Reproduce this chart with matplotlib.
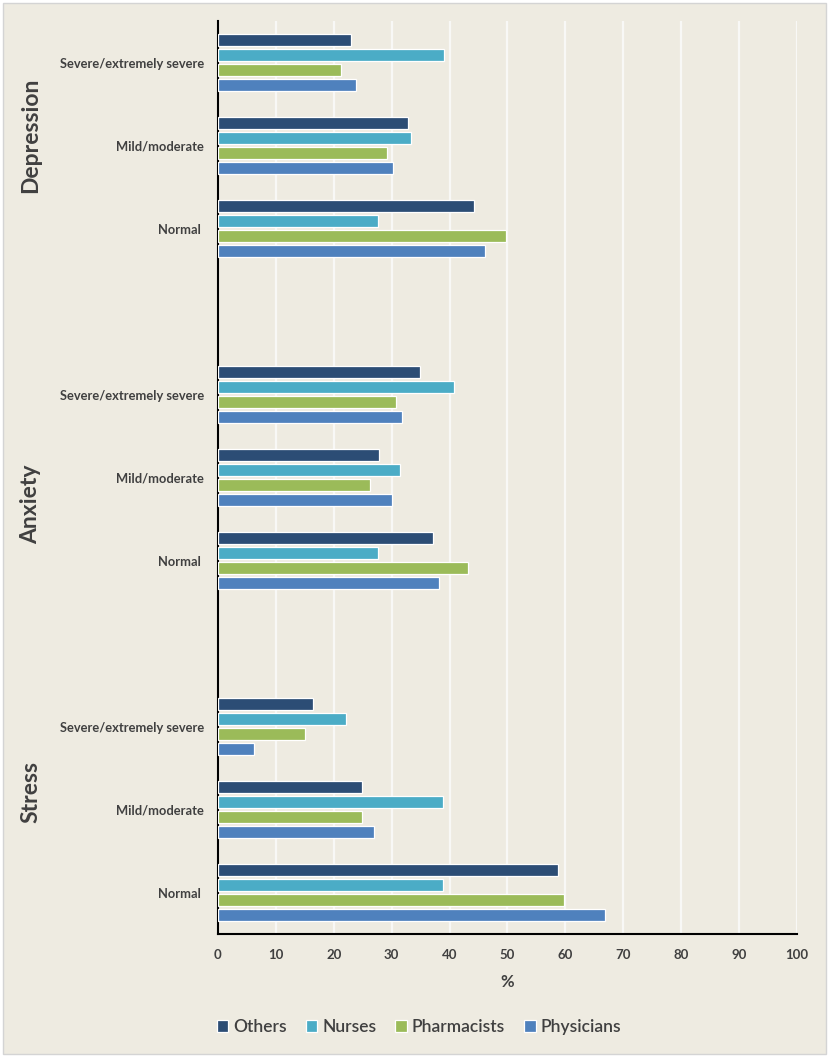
import matplotlib
matplotlib.use('Agg')
import matplotlib.pyplot as plt
import matplotlib.patches as mpatches
import numpy as np

plt.rcParams['font.family'] = ['Lato', 'DejaVu Sans']

# data, order inside each scale: severe, mild, normal
scales = ['Depression', 'Anxiety', 'Stress']
levels = ['Severe/extremely severe', 'Mild/moderate', 'Normal ']
series = ['Others', 'Nurses', 'Pharmacists', 'Physicians']

others = [22.9, 32.9, 44.3, 34.9, 27.8, 37.1, 16.4, 24.9, 58.7]
nurses = [39.0, 33.4, 27.7, 40.8, 31.5, 27.7, 22.1, 38.9, 38.9]
pharmacists = [21.3, 29.2, 49.7, 30.8, 26.3, 43.1, 15.0, 24.9, 59.8]
physicians = [23.8, 30.2, 46.1, 31.8, 30.1, 38.2, 6.3, 26.9, 66.8]

colors = ['#2C4D75', '#4BACC6', '#9BBB59', '#4F81BD']
txt = '#404040'
bg = '#EEEBE1'

W, H = 829, 1057
fig = plt.figure(figsize=(W / 100, H / 100), dpi=100, facecolor='white')
frame = mpatches.Rectangle((3 / W, 3 / H), 823 / W, 1051 / H,
                           transform=fig.transFigure, facecolor=bg,
                           edgecolor='#D4D4D4', linewidth=1, zorder=-5)
fig.patches.append(frame)

ax = fig.add_axes([218 / W, 1 - 934 / H, (797 - 218) / W, (934 - 21) / H])
ax.patch.set_alpha(0)

# one empty slot between the scales
ypos = []
for g in range(len(scales)):
    for k in range(len(levels)):
        ypos.append(g * 4 + k)
ypos = np.array(ypos)

pitch = 15 / 83
hgt = 0.155
values = [others, nurses, pharmacists, physicians]
for i, (name, vals) in enumerate(zip(series, values)):
    off = (i - 1.5) * pitch
    ax.barh(ypos + off, vals, height=hgt, color=colors[i], edgecolor='white',
            linewidth=0.9, label=name, zorder=3)

ax.set_xlim(0, 100)
ax.set_ylim(10.5, -0.5)
ax.set_xticks(np.arange(0, 101, 10))
ax.set_yticks(ypos)
ax.set_yticklabels(levels * len(scales), fontsize=9.3, fontweight='bold', color=txt)
ax.tick_params(axis='both', length=0)
ax.tick_params(axis='y', pad=10)
ax.tick_params(axis='x', pad=11, labelsize=9.5, labelcolor=txt)
for lab in ax.get_xticklabels():
    lab.set_fontweight('bold')

ax.grid(axis='x', color='#F8F8F6', linewidth=1.6, zorder=0)
ax.set_axisbelow(True)
for s in ['top', 'right']:
    ax.spines[s].set_visible(False)
for s in ['left', 'bottom']:
    ax.spines[s].set_color('black')
    ax.spines[s].set_linewidth(1.5)

ax.set_xlabel('%', fontsize=12, fontweight='bold', color=txt, labelpad=9)

# scale names on the far left
for name, yc in zip(scales, [135, 504, 792]):
    fig.text(31 / W, 1 - yc / H, name, rotation=90, ha='center', va='center',
             fontsize=16.5, fontweight='bold', color=txt)

handles, labels = ax.get_legend_handles_labels()
fig.legend(handles, labels, loc='center', bbox_to_anchor=(419 / W, 1 - 1027 / H),
           ncol=4, frameon=False, prop={'size': 12.5, 'weight': 'semibold'},
           labelcolor=txt, handlelength=0.65, handleheight=0.65,
           handletextpad=0.3, columnspacing=1.1)

fig.savefig('out.png', dpi=100, facecolor=fig.get_facecolor())
